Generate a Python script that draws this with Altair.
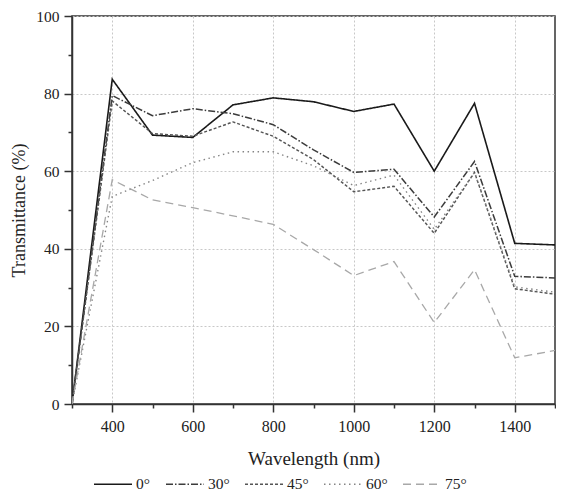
import altair as alt
import pandas as pd

wavelength = [300, 400, 500, 600, 700, 800, 900, 1000, 1100, 1200, 1300, 1400, 1500]
t0 = [0, 83.7, 69.3, 68.7, 77.1, 78.9, 77.9, 75.4, 77.3, 60.0, 77.5, 41.4, 41.0]
t30 = [0, 79.5, 74.3, 76.1, 74.8, 72.0, 65.5, 59.7, 60.5, 48.2, 62.5, 32.9, 32.5]
t45 = [0, 78.1, 69.7, 69.0, 72.7, 69.0, 63.0, 54.7, 56.1, 44.0, 59.7, 29.7, 28.3]
t60 = [0, 53.5, 57.6, 62.2, 65.0, 65.0, 61.4, 56.3, 59.0, 45.0, 59.7, 30.2, 28.8]
t75 = [0, 57.8, 52.6, 50.6, 48.5, 46.3, 39.8, 33.1, 36.7, 21.0, 34.6, 11.9, 13.8]
angles = ["0°", "30°", "45°", "60°", "75°"]
colors = ["#1a1a1a", "#3c3c3c", "#555555", "#858585", "#a8a8a8"]
dashes = [[1, 0], [7, 2, 1.5, 2], [3, 2], [1.5, 3.5], [8, 5]]
widths = [1.6, 1.3, 1.3, 1.3, 1.3]

rows = []
for a, series in zip(angles, [t0, t30, t45, t60, t75]):
    for w, v in zip(wavelength, series):
        rows.append({"Wavelength": w, "T": v, "Angle": a})
df = pd.DataFrame(rows)

FONT = "Liberation Serif"

x_axis = alt.Axis(
    values=list(range(300, 1501, 100)),
    labelExpr="datum.value % 200 == 0 ? datum.label : ''",
    format="d",
    tickSize=alt.ConditionalAxisNumber(
        condition={"test": "datum.value % 200 == 0", "value": 8}, value=4
    ),
    gridOpacity=alt.ConditionalAxisNumber(
        condition={"test": "datum.value % 200 == 0", "value": 1}, value=0
    ),
    grid=True, gridColor="#c8c8c8", gridDash=[2, 2], gridWidth=1,
    domainColor="#333333", domainWidth=1.5,
    tickColor="#333333", tickWidth=1.5,
    labelFont=FONT, labelFontSize=16, labelColor="#222222", labelPadding=6,
    title="Wavelength (nm)", titleFont=FONT, titleFontSize=19,
    titleFontWeight="normal", titleColor="#222222", titlePadding=15,
)
y_axis = alt.Axis(
    values=list(range(0, 101, 10)),
    labelExpr="datum.value % 20 == 0 ? datum.label : ''",
    tickSize=alt.ConditionalAxisNumber(
        condition={"test": "datum.value % 20 == 0", "value": 8}, value=4
    ),
    gridOpacity=alt.ConditionalAxisNumber(
        condition={"test": "datum.value % 20 == 0", "value": 1}, value=0
    ),
    grid=True, gridColor="#c8c8c8", gridDash=[2, 2], gridWidth=1,
    domainColor="#333333", domainWidth=1.5,
    tickColor="#333333", tickWidth=1.5,
    labelFont=FONT, labelFontSize=15.5, labelColor="#222222", labelPadding=5,
    title="Transmittance (%)", titleFont=FONT, titleFontSize=18,
    titleFontWeight="normal", titleColor="#222222", titlePadding=7,
)

chart = alt.Chart(df).mark_line(clip=True).encode(
    x=alt.X("Wavelength:Q", scale=alt.Scale(domain=[300, 1500], nice=False, zero=False), axis=x_axis),
    y=alt.Y("T:Q", scale=alt.Scale(domain=[0, 100], nice=False), axis=y_axis),
    color=alt.Color("Angle:N", scale=alt.Scale(domain=angles, range=colors),
                    sort=angles,
                    legend=alt.Legend(
                        title=None, orient="none", direction="horizontal",
                        legendX=21, legendY=448,
                        symbolType="stroke", symbolSize=1444, symbolStrokeWidth=1.5,
                        labelFont=FONT, labelFontSize=15.5, labelColor="#222222",
                        labelOffset=3, columnPadding=12,
                    )),
    strokeDash=alt.StrokeDash("Angle:N", scale=alt.Scale(domain=angles, range=dashes), sort=angles),
    strokeWidth=alt.StrokeWidth("Angle:N", scale=alt.Scale(domain=angles, range=widths), legend=None),
).properties(
    width=483, height=388,
    autosize=alt.AutoSizeParams(type="none"),
    padding={"left": 64, "top": 8, "right": 1, "bottom": 88},
).configure_view(
    stroke="#333333", strokeWidth=1.5
)

chart.save("out.html", embed_options={"renderer": "svg", "actions": False})
